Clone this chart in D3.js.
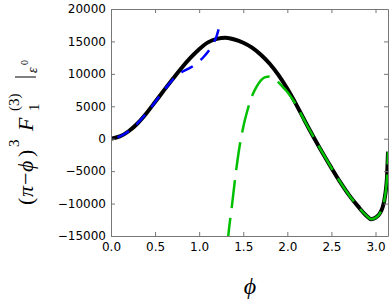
<!DOCTYPE html>
<html lang="en">
<head>
    <meta charset="UTF-8"/>
    <title>F1 expansion</title>
    <script src="https://d3js.org/d3.v7.min.js"></script>
    <style>
        body { margin: 0; background: #fff; }
        .tick text { font-family: "DejaVu Sans", sans-serif; font-size: 12px; fill: #000; }
        .lab { font-family: "Liberation Serif", "DejaVu Serif", serif; fill: #000; }
    </style>
</head>
<body>
<script>
    var w = 392;
    var h = 305;
    var margin = {left: 111, right: 4, top: 9, bottom: 69};

    // exact curve (black)
    var phiExact = [0, 0.1, 0.2, 0.3, 0.4, 0.5, 0.6, 0.7, 0.8, 0.9, 1.0, 1.1, 1.2, 1.3, 1.4, 1.5,
                    1.6, 1.7, 1.8, 1.9, 2.0, 2.1, 2.2, 2.3, 2.4, 2.5, 2.6, 2.7, 2.8, 2.9, 2.95,
                    3.0, 3.05, 3.08, 3.1, 3.12, 3.13, 3.1416];
    var valExact = [0, 350, 1150, 2350, 3900, 5650, 7450, 9200, 10900, 12450, 13800, 14850, 15400, 15550, 15300, 14800,
                    14050, 12950, 11550, 9800, 7700, 5300, 2700, 200, -2200, -4500, -6700, -8700, -10400, -11900, -12400,
                    -12200, -11500, -10600, -9500, -7600, -6000, -2000];

    // small phi expansion (blue)
    var phiSmall = [0, 0.1, 0.2, 0.3, 0.4, 0.5, 0.6, 0.65, 0.7, 0.75, 0.8, 0.85, 0.9, 0.95, 1.0, 1.05, 1.1, 1.15, 1.18, 1.2, 1.22];
    var valSmall = [0, 350, 1150, 2350, 3900, 5650, 7450, 8300, 9100, 9750, 10250, 10600, 10950, 11400, 11950, 12600, 13400, 14450, 15250, 15900, 16850];

    // large phi expansion (green)
    var phiLarge = [1.32, 1.33, 1.37, 1.41, 1.45, 1.5, 1.55, 1.6, 1.65, 1.7, 1.75, 1.8, 1.85, 1.9, 1.95, 2.0, 2.1, 2.2,
                    2.3, 2.4, 2.5, 2.6, 2.7, 2.8, 2.9, 2.95, 3.0, 3.05, 3.08, 3.1, 3.12, 3.13, 3.1416];
    var valLarge = [-16500, -15000, -10500, -5900, -1900, 1800, 4500, 6600, 8000, 9000, 9500, 9600, 9300, 8700, 7950, 7200, 5200, 2650,
                    200, -2200, -4500, -6700, -8700, -10400, -11900, -12400, -12200, -11500, -10600, -9500, -7600, -6000, -2000];

    var xTicks = [0, 0.5, 1.0, 1.5, 2.0, 2.5, 3.0];
    var yTicks = [-15000, -10000, -5000, 0, 5000, 10000, 15000, 20000];

    var svg = d3.select("body").append("svg")
        .attr("width", w)
        .attr("height", h);

    var x = d3.scaleLinear().domain([0, Math.PI]).range([margin.left, w - margin.right]);
    var y = d3.scaleLinear().domain([-15000, 20000]).range([h - margin.bottom, margin.top]);

    svg.append("clipPath").attr("id", "clip")
        .append("rect")
        .attr("x", margin.left).attr("y", margin.top)
        .attr("width", w - margin.left - margin.right)
        .attr("height", h - margin.top - margin.bottom);

    var line = d3.line()
        .x(function(d) { return x(d[0]); })
        .y(function(d) { return y(d[1]); })
        .curve(d3.curveMonotoneX);

    var plot = svg.append("g").attr("clip-path", "url(#clip)");

    plot.append("path")
        .datum(d3.zip(phiExact, valExact))
        .attr("d", line)
        .attr("fill", "none")
        .attr("stroke", "#000")
        .attr("stroke-width", 4);

    var blue = plot.append("path")
        .datum(d3.zip(phiSmall, valSmall))
        .attr("d", line)
        .attr("fill", "none")
        .attr("stroke", "#0000ff")
        .attr("stroke-width", 2.5)
        .attr("stroke-dasharray", "13,10");
    // make the pattern finish with a full dash at the end of the series
    var L = blue.node().getTotalLength();
    blue.attr("stroke-dashoffset", ((13 - L) % 23 + 23) % 23);

    plot.append("path")
        .datum(d3.zip(phiLarge, valLarge))
        .attr("d", line)
        .attr("fill", "none")
        .attr("stroke", "#00c000")
        .attr("stroke-width", 2.5)
        .attr("stroke-dasharray", "28,10");

    // axes, ticks pointing inwards on all four sides
    var axCol = "#777";
    var fmtX = d3.format(".1f");

    var axB = svg.append("g")
        .attr("transform", "translate(0," + (h - margin.bottom) + ")")
        .call(d3.axisBottom(x).tickValues(xTicks).tickFormat(fmtX).tickSizeInner(-4).tickSizeOuter(0).tickPadding(6));
    var axT = svg.append("g")
        .attr("transform", "translate(0," + margin.top + ")")
        .call(d3.axisTop(x).tickValues(xTicks).tickFormat("").tickSizeInner(-4).tickSizeOuter(0));
    var axL = svg.append("g")
        .attr("transform", "translate(" + margin.left + ",0)")
        .call(d3.axisLeft(y).tickValues(yTicks).tickFormat(function(d) { return d < 0 ? "\u2212" + Math.abs(d) : d; })
            .tickSizeInner(-4).tickSizeOuter(0).tickPadding(5));
    var axR = svg.append("g")
        .attr("transform", "translate(" + (w - margin.right) + ",0)")
        .call(d3.axisRight(y).tickValues(yTicks).tickFormat("").tickSizeInner(-4).tickSizeOuter(0));

    [axB, axT, axL, axR].forEach(function(g) {
        g.selectAll(".domain").attr("stroke", axCol);
        g.selectAll(".tick line").attr("stroke", axCol);
    });

    // x label
    svg.append("text")
        .attr("class", "lab")
        .attr("x", 250)
        .attr("y", 294)
        .attr("text-anchor", "middle")
        .style("font-size", "24px")
        .style("font-style", "italic")
        .text("\u03d5");

    // y label, rotated; local x runs up the page
    var yl = svg.append("g").attr("transform", "translate(33,205) rotate(-90)");
    function part(str, lx, ly, size, italic) {
        yl.append("text")
            .attr("class", "lab")
            .attr("x", lx)
            .attr("y", ly)
            .style("font-size", size + "px")
            .style("font-style", italic ? "italic" : "normal")
            .text(str);
    }
    part("(", 0, 0, 22, false);
    part("\u03c0", 8, 0, 22, true);
    part("\u2212", 20, 0, 22, false);
    part("\u03d5", 33, 0, 22, true);
    part(")", 48, 0, 22, false);
    part("3", 58, -14, 15, false);
    part("F", 74, 0, 22, true);
    part("1", 94, 6, 15, false);
    part("(3)", 94, -14, 15, false);
    yl.append("line")
        .attr("x1", 128).attr("x2", 128)
        .attr("y1", -18).attr("y2", 3)
        .attr("stroke", "#000").attr("stroke-width", 1);
    part("\u03b5", 132, 4, 14, true);
    part("0", 140, -5, 10, false);
</script>
</body>
</html>
